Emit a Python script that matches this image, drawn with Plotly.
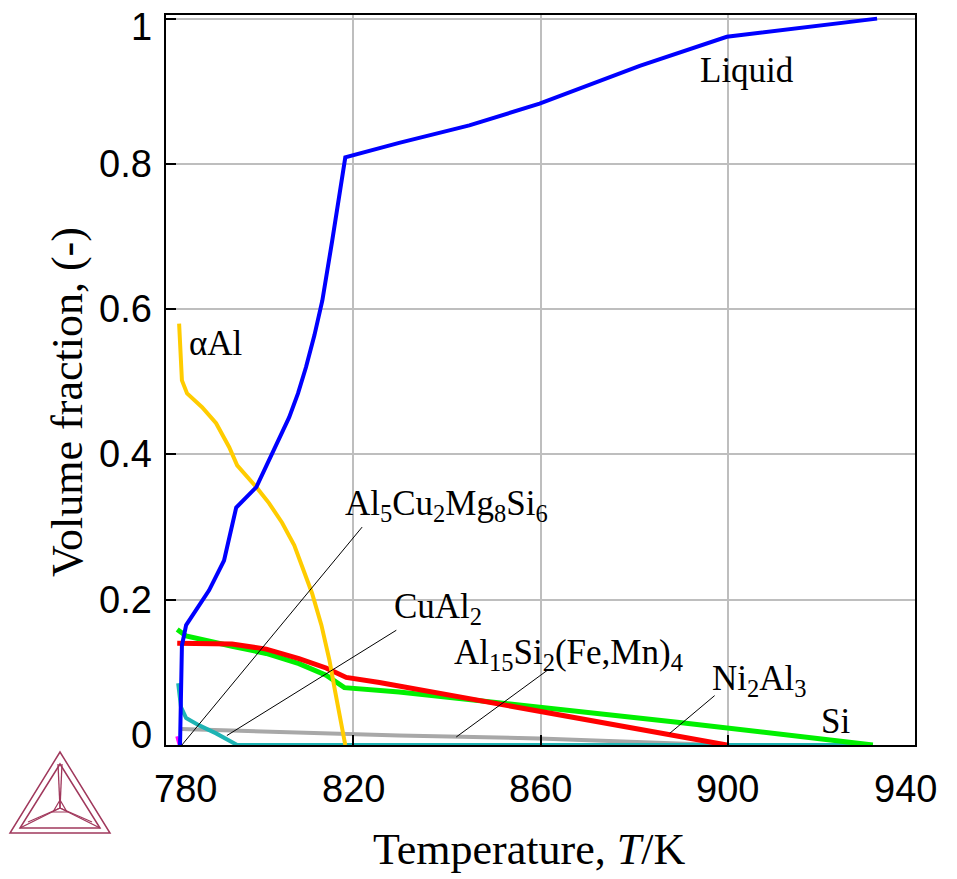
import plotly.graph_objects as go

# ---------------- data ----------------
liquid_T = [783.0, 783.2, 783.4, 784.3, 789.2, 792.4, 795.0, 799.3, 802.7, 806.3, 808.2, 809.9,
            811.7, 813.4, 815.5, 817.0, 818.3, 829.8, 844.8, 859.8, 881.2, 899.8, 931.9]
liquid_f = [0.0, 0.075, 0.137, 0.165, 0.213, 0.254, 0.327, 0.355, 0.401, 0.451, 0.484, 0.520,
            0.564, 0.612, 0.694, 0.756, 0.809, 0.829, 0.853, 0.883, 0.935, 0.975, 1.0]

alal_T = [782.8, 783.4, 784.5, 787.7, 790.7, 793.5, 795.2, 799.3, 802.0, 804.8, 807.4, 809.5,
          811.2, 813.2, 814.9, 816.1, 817.2, 818.3]
alal_f = [0.580, 0.502, 0.484, 0.465, 0.443, 0.410, 0.385, 0.355, 0.333, 0.306, 0.275, 0.240,
          0.209, 0.165, 0.117, 0.075, 0.037, 0.0]

red_T = [782.4, 794.1, 801.4, 808.4, 814.2, 818.5, 825.6, 889.7, 898.9, 899.8]
red_f = [0.140, 0.139, 0.132, 0.119, 0.106, 0.093, 0.086, 0.013, 0.001, 0.0]

si_T = [782.4, 784.3, 794.1, 801.4, 808.4, 814.2, 818.1, 829.8, 889.7, 931.0]
si_f = [0.159, 0.150, 0.136, 0.126, 0.112, 0.096, 0.079, 0.073, 0.031, 0.0]

cyan_T = [782.6, 783.2, 784.3, 787.1, 790.7, 793.5, 795.2, 931.0]
cyan_f = [0.085, 0.052, 0.037, 0.027, 0.016, 0.006, 0.0, 0.0]

gray_T = [783.2, 799.9, 817.0, 829.8, 859.8, 881.2, 898.3]
gray_f = [0.022, 0.019, 0.016, 0.013, 0.009, 0.004, 0.0]

mag_T = [782.3, 782.8]
mag_f = [0.012, 0.0]

x_ticks = [780, 820, 860, 900, 940]
x_ticktext = ["780", "820", "860", "900", "940"]
y_ticks = [0, 0.2, 0.4, 0.6, 0.8, 1.0]
y_ticktext = ["0", "0.2", "0.4", "0.6", "0.8", "1"]

# phase labels: text, label position (T, f), leader line start / end (T, f)
label_text = ["Liquid", "αAl", "Al<sub>5</sub>Cu<sub>2</sub>Mg<sub>8</sub>Si<sub>6</sub>",
              "CuAl<sub>2</sub>", "Al<sub>15</sub>Si<sub>2</sub>(Fe,Mn)<sub>4</sub>",
              "Ni<sub>2</sub>Al<sub>3</sub>", "Si"]
label_T = [904.1, 790.7, 840.0, 838.2, 865.9, 906.8, 923.1]
label_f = [0.928, 0.553, 0.330, 0.188, 0.125, 0.089, 0.033]
leader_T0 = [None, None, 821.9, 829.2, 861.5, 897.2, None]
leader_f0 = [None, None, 0.300, 0.158, 0.103, 0.068, None]
leader_T1 = [None, None, 783.4, 793.0, 842.0, 887.6, None]
leader_f1 = [None, None, 0.0, 0.013, 0.011, 0.016, None]

# ---------------- styles ----------------
W, H = 957, 879
ML, MR, MT, MB = 166, 42, 15, 134
PW, PH = W - ML - MR, H - MT - MB

serif = "Liberation Serif, Times New Roman, serif"
sans = "Liberation Sans, Arial, sans-serif"
tick_font = dict(family=sans, size=38, color="black")
title_font = dict(family=serif, size=44, color="black")
# end labels are pulled inward, as in the reference
x_label_shift = [19, 0, 0, 0, -10]
y_label_shift = [10, 0, 0, 0, 0, -8]


def px(x):
    return (x - ML) / PW


def py(y):
    return (H - MB - y) / PH


fig = go.Figure()


def add_line(x, y, color, width):
    fig.add_trace(go.Scatter(x=x, y=y, mode="lines", line=dict(color=color, width=width),
                             showlegend=False, hoverinfo="skip"))


add_line(gray_T, gray_f, "#A8A8A8", 4)
add_line(cyan_T, cyan_f, "#1EB4B4", 4)
add_line(mag_T, mag_f, "#FF00FF", 3)
add_line(si_T, si_f, "#00F000", 5)
add_line(red_T, red_f, "#FF0000", 5)
add_line(alal_T, alal_f, "#FFCC00", 4)
add_line(liquid_T, liquid_f, "#0000FF", 4)

for i, t in enumerate(label_text):
    fig.add_annotation(x=label_T[i], y=label_f[i], text=t, showarrow=False,
                       xanchor="center", yanchor="middle",
                       font=dict(family=serif, size=35, color="black"))
    if leader_T0[i] is not None:
        fig.add_shape(type="line", x0=leader_T0[i], y0=leader_f0[i], x1=leader_T1[i],
                      y1=leader_f1[i], xref="x", yref="y",
                      line=dict(color="black", width=1))

# tick labels
for v, t, s in zip(x_ticks, x_ticktext, x_label_shift):
    fig.add_annotation(x=v, xref="x", y=0, yref="paper", text=t, showarrow=False,
                       xanchor="center", yanchor="middle", xshift=s, yshift=-44,
                       font=tick_font)
for v, t, s in zip(y_ticks, y_ticktext, y_label_shift):
    fig.add_annotation(x=0, xref="paper", y=v, yref="y", text=t, showarrow=False,
                       xanchor="right", yanchor="middle", xshift=-12, yshift=s,
                       font=tick_font)

# axis titles
fig.add_annotation(x=px(529), y=py(850), xref="paper", yref="paper",
                   text="Temperature, <i>T</i>/K", showarrow=False,
                   xanchor="center", yanchor="middle", font=title_font)
fig.add_annotation(x=px(67), y=py(402), xref="paper", yref="paper",
                   text="Volume fraction, (-)", showarrow=False, textangle=-90,
                   xanchor="center", yanchor="middle", font=title_font)

# Thermo-Calc style logo (decoration)
logo_col = "#A0385C"
for tri in [[(60, 752), (10, 833), (110, 833)], [(60, 764), (20, 828), (100, 828)]]:
    p = "M " + " L ".join(f"{px(a):.5f},{py(b):.5f}" for a, b in tri) + " Z"
    fig.add_shape(type="path", path=p, xref="paper", yref="paper",
                  line=dict(color=logo_col, width=1.5))
center = (60, 808)
for a, b in [(58, 764), (62, 764), (20, 828), (100, 828), (28, 822), (92, 822)]:
    fig.add_shape(type="line", x0=px(center[0]), y0=py(center[1]), x1=px(a), y1=py(b),
                  xref="paper", yref="paper", line=dict(color=logo_col, width=1.3))
fig.add_shape(type="path",
              path=f"M {px(60):.5f},{py(800):.5f} L {px(53):.5f},{py(812):.5f} "
                   f"L {px(67):.5f},{py(812):.5f} Z",
              xref="paper", yref="paper", line=dict(color=logo_col, width=1.2))

axis_common = dict(showline=True, linecolor="black", linewidth=2, mirror=True,
                   showgrid=True, gridcolor="#BEBEBE", gridwidth=2,
                   ticks="inside", ticklen=10, tickwidth=2, tickcolor="black",
                   zeroline=False, automargin=False, showticklabels=False)

fig.update_xaxes(range=[780, 940], tickvals=x_ticks, **axis_common)
fig.update_yaxes(range=[0, 1.005], tickvals=y_ticks, **axis_common)

fig.update_layout(width=W, height=H, margin=dict(l=ML, r=MR, t=MT, b=MB),
                  paper_bgcolor="white", plot_bgcolor="white")

fig.write_html("out.html")
